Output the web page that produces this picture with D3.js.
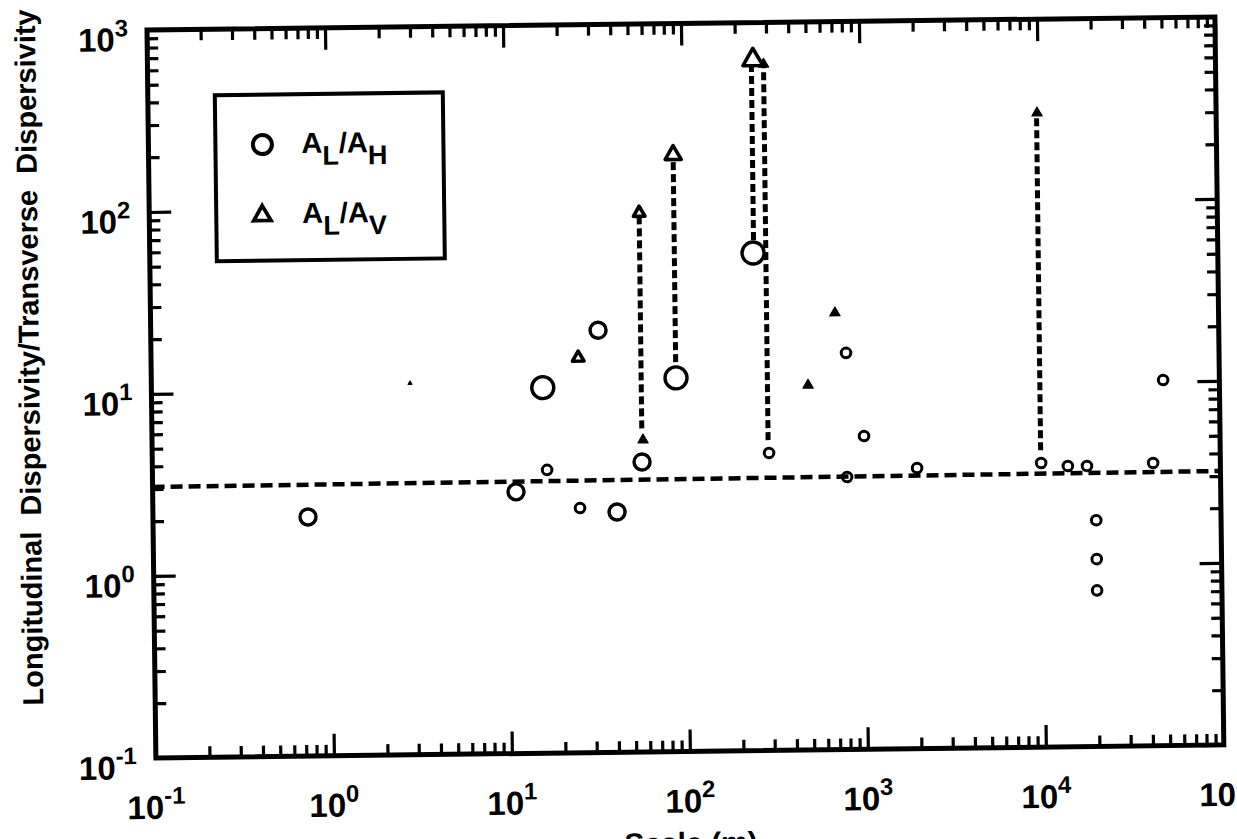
<!DOCTYPE html>
<meta charset="utf-8">
<style>
  body { margin: 0; background: #fff; }
  svg { display: block; }
  text { font-family: "Liberation Sans", Arial, Helvetica, sans-serif; font-weight: bold; fill: #000; }
</style>
<script src="https://cdn.jsdelivr.net/npm/d3@7"></script>
<div id="chart"></div>
<script>
// A_L/A_H points (open circles): scale (m), ratio, marker size class
var circleScale = [0.743, 11.0, 15.8, 16.5, 25.1, 32.6, 40.5, 56.4, 88.7, 245, 292, 803, 798, 1000, 1977, 9840, 13900, 17800, 19900, 19900, 19900, 41900, 48300];
var circleRatio = [2.06, 2.74, 10.2, 3.60, 2.21, 20.9, 2.09, 3.92, 11.3, 54.2, 4.31, 15.1, 3.14, 5.26, 3.48, 3.64, 3.49, 3.48, 1.75, 1.07, 0.72, 3.58, 10.2];
var circleSize  = ["M", "M", "L", "S", "S", "M", "M", "M", "L", "L", "S", "S", "S", "S", "S", "S", "S", "S", "S", "S", "S", "S", "S"];

// A_L/A_V points (triangles): open L/M/S, filled F, tiny T
var triScale = [25.1, 56.5, 57.3, 88.5, 252, 489, 700, 9860, 289, 2.84];
var triRatio = [14.8, 91.6, 5.18, 190, 624, 10.1, 25.1, 305, 590, 11.0];
var triKind  = ["S", "S", "F", "M", "L", "F", "F", "F", "F", "T"];

// dashed arrows between paired values
var arrowScale = [56.5, 88.5, 247, 289, 9800];
var arrowFrom  = [6.0, 13.8, 63.9, 5.07, 4.28];
var arrowTo    = [91.6, 190, 624, 590, 305];

// dashed fitted line
var fitScale = [0.1, 100000];
var fitRatio = [3.08, 3.2];

var xTickExp = [-1, 0, 1, 2, 3, 4, 5];
var yTickExp = [-1, 0, 1, 2, 3];

var width = 1068, height = 728;

var svg = d3.select("#chart").append("svg")
  .attr("width", 1237)
  .attr("height", 839);

// scanned figure sits slightly tilted on the page
var g = svg.append("g")
  .attr("transform", "translate(147,30) rotate(-0.7)");

var x = d3.scaleLog().domain([0.1, 100000]).range([0, width]);
var y = d3.scaleLog().domain([0.1, 1000]).range([height, 0]);

function minors(lo, hi) {
  var out = [];
  for (var k = lo; k < hi; k++)
    for (var m = 2; m <= 9; m++) out.push(m * Math.pow(10, k));
  return out;
}
var xMajor = xTickExp.map(function(e) { return Math.pow(10, e); });
var yMajor = yTickExp.map(function(e) { return Math.pow(10, e); });

function tickAxis(axis, values, size, transform) {
  var a = g.append("g").attr("transform", transform)
    .call(axis.tickValues(values).tickSize(size).tickSizeOuter(0).tickFormat(""));
  a.select(".domain").remove();
  a.selectAll("line").attr("stroke", "#000").attr("stroke-width", 3.2);
}
// ticks point inward on all four sides
tickAxis(d3.axisBottom(x), xMajor, -22, "translate(0," + height + ")");
tickAxis(d3.axisBottom(x), minors(-1, 5), -11, "translate(0," + height + ")");
tickAxis(d3.axisTop(x), xMajor, -22, "translate(0,0)");
tickAxis(d3.axisTop(x), minors(-1, 5), -11, "translate(0,0)");
tickAxis(d3.axisLeft(y), yMajor, -22, "translate(0,0)");
tickAxis(d3.axisLeft(y), minors(-1, 3), -11, "translate(0,0)");
tickAxis(d3.axisRight(y), yMajor, -22, "translate(" + width + ",0)");
tickAxis(d3.axisRight(y), minors(-1, 3), -11, "translate(" + width + ",0)");

// frame
g.append("rect")
  .attr("width", width).attr("height", height)
  .attr("fill", "none").attr("stroke", "#000").attr("stroke-width", 5);

// tick labels 10^n
g.selectAll(".ylab").data(yTickExp).enter().append("text")
  .attr("class", "ylab")
  .attr("x", -19)
  .attr("y", function(e) { return y(Math.pow(10, e)) + 21; })
  .attr("text-anchor", "end")
  .style("font-size", "33px")
  .each(function(e) {
    var t = d3.select(this);
    t.append("tspan").text("10");
    t.append("tspan").attr("dy", -15).style("font-size", "24px").text(e);
  });

g.selectAll(".xlab").data(xTickExp).enter().append("text")
  .attr("class", "xlab")
  .attr("x", function(e) { return x(Math.pow(10, e)); })
  .attr("y", height + 61)
  .attr("text-anchor", "middle")
  .style("font-size", "33px")
  .each(function(e) {
    var t = d3.select(this);
    t.append("tspan").text("10");
    t.append("tspan").attr("dy", -15).style("font-size", "24px").text(e);
  });

// axis titles
g.append("text")
  .attr("transform", "translate(-112,326) rotate(-90)")
  .attr("text-anchor", "middle")
  .style("font-size", "29px")
  .style("white-space", "pre")
  .text("Longitudinal  Dispersivity/Transverse  Dispersivity");

// x title: only its top edge shows at the bottom of the page
g.append("text")
  .attr("x", width / 2)
  .attr("y", height + 102)
  .attr("text-anchor", "middle")
  .style("font-size", "30px")
  .text("Scale (m)");

// fitted dashed line
var fit = fitScale.map(function(d, i) { return [x(d), y(fitRatio[i])]; });
g.append("path")
  .attr("d", d3.line()(fit))
  .attr("fill", "none").attr("stroke", "#000")
  .attr("stroke-width", 4.5).attr("stroke-dasharray", "12,6");

// dashed arrows
g.selectAll(".arrow").data(arrowScale).enter().append("line")
  .attr("class", "arrow")
  .attr("x1", function(d) { return x(d); })
  .attr("x2", function(d) { return x(d); })
  .attr("y1", function(d, i) { return y(arrowFrom[i]); })
  .attr("y2", function(d, i) { return y(arrowTo[i]); })
  .attr("stroke", "#000").attr("stroke-width", 5)
  .attr("stroke-dasharray", "8,4");

var triArea = { L: 175, M: 112, S: 58, F: 45, T: 6 };
var triIdx = d3.range(triScale.length);

function drawTris(kinds) {
  g.selectAll(null).data(triIdx.filter(function(i) { return kinds.indexOf(triKind[i]) >= 0; }))
    .enter().append("path")
    .attr("transform", function(i) { return "translate(" + x(triScale[i]) + "," + y(triRatio[i]) + ")"; })
    .attr("d", function(i) { return d3.symbol(d3.symbolTriangle, triArea[triKind[i]])(); })
    .attr("fill", function(i) { return (triKind[i] == "F" || triKind[i] == "T") ? "#000" : "#fff"; })
    .attr("stroke", "#000")
    .attr("stroke-width", function(i) { return (triKind[i] == "F" || triKind[i] == "T") ? 1.2 : 3.6; })
    .attr("stroke-linejoin", "round");
}
drawTris(["F", "T"]);

var radius = { L: 11, M: 8, S: 4.8 };
g.selectAll(".pt").data(circleScale).enter().append("circle")
  .attr("class", "pt")
  .attr("cx", function(d) { return x(d); })
  .attr("cy", function(d, i) { return y(circleRatio[i]); })
  .attr("r", function(d, i) { return radius[circleSize[i]]; })
  .attr("fill", "none").attr("stroke", "#000")
  .attr("stroke-width", function(d, i) { return circleSize[i] == "S" ? 3 : 3.4; });

drawTris(["L", "M", "S"]);

// legend
var leg = g.append("g").attr("transform", "translate(67,66)");
leg.append("rect")
  .attr("width", 228).attr("height", 166)
  .attr("fill", "#fff").attr("stroke", "#000").attr("stroke-width", 4);
leg.append("circle")
  .attr("cx", 47).attr("cy", 50).attr("r", 9.5)
  .attr("fill", "none").attr("stroke", "#000").attr("stroke-width", 4);
leg.append("path")
  .attr("transform", "translate(46,121)")
  .attr("d", d3.symbol(d3.symbolTriangle, 130)())
  .attr("fill", "none").attr("stroke", "#000").attr("stroke-width", 3.8);

function legendLabel(yy, sub) {
  var t = leg.append("text").attr("x", 86).attr("y", yy).style("font-size", "29px");
  t.append("tspan").text("A");
  t.append("tspan").attr("dy", 12).style("font-size", "27px").text("L");
  t.append("tspan").attr("dy", -12).text("/A");
  t.append("tspan").attr("dy", 12).style("font-size", "27px").text(sub);
}
legendLabel(59, "H");
legendLabel(129, "V");
</script>
